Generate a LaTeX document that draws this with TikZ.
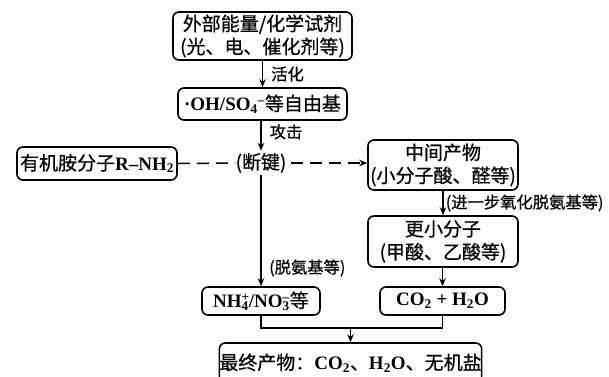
\documentclass[tikz,border=0pt]{standalone}
\usepackage{fontspec}
\setmainfont{Liberation Serif}
\newfontfamily\cjk[FakeBold=0.6]{Noto Sans CJK SC}
\usetikzlibrary{arrows.meta}
\newcommand{\zh}[1]{{\cjk #1}}
\newcommand{\lat}[1]{{\bfseries #1}}
\newcommand{\subsup}[2]{\rlap{\textsuperscript{#2}}\textsubscript{#1}}
\tikzset{
  box/.style={draw, line width=1.6pt, rounded corners=6pt, align=center, inner sep=0pt,
    font=\fontsize{19}{23}\selectfont},
  plain/.style={inner sep=0pt, font=\fontsize{19}{23}\selectfont},
  lab/.style={inner sep=0pt, font=\fontsize{16.3}{18}\selectfont},
  conn/.style={line width=1.5pt},
  arr/.style={conn, -{Stealth[length=8pt,width=6.5pt]}},
  dsh/.style={line width=1.5pt, dash pattern=on 12pt off 7pt}
}
\begin{document}
\begin{tikzpicture}[x=1pt,y=-1pt]
\clip (0,0) rectangle (609,376);
\node[box, minimum width=179pt, minimum height=48pt] (src) at (262.5,36) {\zh{外部能量/化学试剂}\\\zh{(光、电、催化剂等)}};
\node[box, minimum width=169pt, minimum height=32pt] (rad) at (262.5,104) {\lat{·OH/SO}\textsubscript{\bfseries 4}\textsuperscript{\bfseries –}\zh{等自由基}};
\node[box, minimum width=160pt, minimum height=33pt] (amine) at (97,163.5) {\zh{有机胺分子}\lat{R–NH\textsubscript{2}}};
\node[plain, minimum height=24pt] (brk) at (261,163) {\zh{(断键)}};
\node[box, minimum width=150pt, minimum height=50pt] (mid) at (443,165) {\zh{中间产物}\\\zh{(小分子酸、醛等)}};
\node[box, minimum width=150pt, minimum height=51pt] (small) at (443,241.5) {\zh{更小分子}\\\zh{(甲酸、乙酸等)}};
\node[box, minimum width=118pt, minimum height=28pt] (nh4) at (261,301) {\lat{NH\subsup{4}{+}/NO\subsup{3}{–}}\zh{等}};
\node[box, minimum width=125pt, minimum height=28pt] (co2) at (442.5,301) {\lat{CO\textsubscript{2} + H\textsubscript{2}O}};
\node[box, minimum width=249pt, minimum height=40pt] (final) at (350.5,363) {\zh{最终产物：}\lat{CO\textsubscript{2}}\zh{、}\lat{H\textsubscript{2}O}\zh{、无机盐}};
\coordinate (j) at (350.5,328);
% vertical chain
\draw[arr] (src.south -| rad.north) -- node[lab, anchor=west, xshift=8pt] {\zh{活化}} (rad.north);
\draw[arr] (rad.south -| brk.north) -- node[lab, anchor=west, xshift=8pt, yshift=4pt] {\zh{攻击}} (brk.north);
\draw[arr] (brk.south) -- (nh4.north);
\node[lab, anchor=west] (deam) at (269,268) {\zh{(脱氨基等)}};
% dashed branch
\draw[dsh] (amine.east) -- (brk.west);
\draw[dsh, -{Stealth[length=8pt,width=6.5pt]}] (brk.east) ++(4pt,0) coordinate (bo) (bo) -- (mid.west |- bo);
% right chain
\draw[arr] (mid.south -| small.north) -- node[lab, anchor=west, xshift=2pt] {\zh{(进一步氧化脱氨基等)}} (small.north);
\draw[arr] (small.south -| co2.north) -- (co2.north);
% merge
\draw[conn] (nh4.south) |- (j) -| (co2.south);
\draw[arr] (j) -- (final.north);
\end{tikzpicture}
\end{document}
